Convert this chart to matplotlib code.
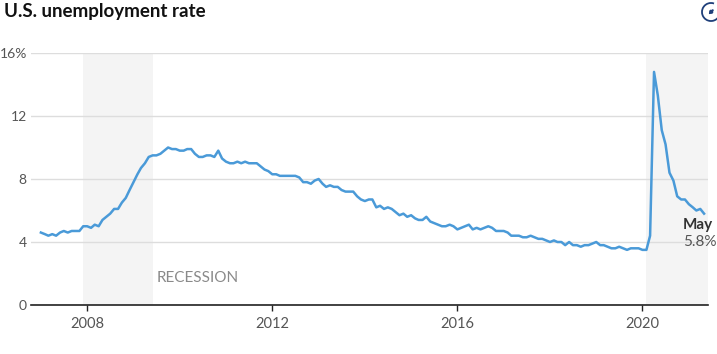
import numpy as np
import pandas as pd
import matplotlib.pyplot as plt
import matplotlib.dates as mdates
from matplotlib.patches import Arc, FancyArrowPatch

plt.rcParams['font.family'] = ['Lato', 'DejaVu Sans']

# Monthly unemployment rate, Jan 2007 - May 2021 (%)
rate = [
    4.6, 4.5, 4.4, 4.5, 4.4, 4.6, 4.7, 4.6, 4.7, 4.7, 4.7, 5.0,   # 2007
    5.0, 4.9, 5.1, 5.0, 5.4, 5.6, 5.8, 6.1, 6.1, 6.5, 6.8, 7.3,   # 2008
    7.8, 8.3, 8.7, 9.0, 9.4, 9.5, 9.5, 9.6, 9.8, 10.0, 9.9, 9.9,  # 2009
    9.8, 9.8, 9.9, 9.9, 9.6, 9.4, 9.4, 9.5, 9.5, 9.4, 9.8, 9.3,   # 2010
    9.1, 9.0, 9.0, 9.1, 9.0, 9.1, 9.0, 9.0, 9.0, 8.8, 8.6, 8.5,   # 2011
    8.3, 8.3, 8.2, 8.2, 8.2, 8.2, 8.2, 8.1, 7.8, 7.8, 7.7, 7.9,   # 2012
    8.0, 7.7, 7.5, 7.6, 7.5, 7.5, 7.3, 7.2, 7.2, 7.2, 6.9, 6.7,   # 2013
    6.6, 6.7, 6.7, 6.2, 6.3, 6.1, 6.2, 6.1, 5.9, 5.7, 5.8, 5.6,   # 2014
    5.7, 5.5, 5.4, 5.4, 5.6, 5.3, 5.2, 5.1, 5.0, 5.0, 5.1, 5.0,   # 2015
    4.8, 4.9, 5.0, 5.1, 4.8, 4.9, 4.8, 4.9, 5.0, 4.9, 4.7, 4.7,   # 2016
    4.7, 4.6, 4.4, 4.4, 4.4, 4.3, 4.3, 4.4, 4.3, 4.2, 4.2, 4.1,   # 2017
    4.0, 4.1, 4.0, 4.0, 3.8, 4.0, 3.8, 3.8, 3.7, 3.8, 3.8, 3.9,   # 2018
    4.0, 3.8, 3.8, 3.7, 3.6, 3.6, 3.7, 3.6, 3.5, 3.6, 3.6, 3.6,   # 2019
    3.5, 3.5, 4.4, 14.8, 13.3, 11.1, 10.2, 8.4, 7.9, 6.9, 6.7, 6.7,  # 2020
    6.4, 6.2, 6.0, 6.1, 5.8,                                      # 2021
]
dates = pd.date_range('2007-01-01', periods=len(rate), freq='MS')

recessions = [('2007-12-01', '2009-06-01'), ('2020-02-01', '2021-06-01')]
yticks = [0, 4, 8, 12, 16]
ytick_labels = ['0', '4', '8', '12', '16%']
xtick_years = [2008, 2012, 2016, 2020]

line_color = '#4a9ad8'
text_color = '#555555'
W, H = 717, 354

fig = plt.figure(figsize=(W / 100, H / 100), dpi=100)
ax = fig.add_axes([31 / W, 49 / H, 677 / W, 252 / H])

for start, end in recessions:
    ax.axvspan(pd.Timestamp(start), pd.Timestamp(end), color='#f4f4f4', zorder=0, lw=0)

ax.plot(dates, rate, color=line_color, lw=1.8, zorder=3, solid_joinstyle='round')

ax.set_ylim(0, 16)
ax.set_xlim(pd.Timestamp('2006-10-15'), pd.Timestamp('2021-06-01'))
ax.set_yticks(yticks)
ax.set_yticklabels(ytick_labels)
ax.set_xticks([pd.Timestamp(f'{y}-01-01') for y in xtick_years])
ax.xaxis.set_major_formatter(mdates.DateFormatter('%Y'))

ax.grid(axis='y', color='#dddddd', lw=1, zorder=1)
for s in ['top', 'right', 'left']:
    ax.spines[s].set_visible(False)
ax.spines['bottom'].set_color('#222222')
ax.spines['bottom'].set_linewidth(1.2)
ax.tick_params(axis='y', length=0, pad=3, labelsize=10, labelcolor=text_color)
ax.tick_params(axis='x', length=4, width=1, color='#222222', pad=5,
               labelsize=10.5, labelcolor=text_color)

fig.text(157 / W, 1 - 278 / H, 'RECESSION', fontsize=11,
         color='#8a8a8a', ha='left', va='center')

fig.text(683 / W, 1 - 225 / H, 'May', ha='left', va='center',
         fontsize=11, fontweight='bold', color='#333333')
fig.text(683 / W, 1 - 242 / H, '5.8%', ha='left', va='center',
         fontsize=11, color=text_color)

fig.text(4 / W, 1 - 12 / H, 'U.S. unemployment rate', fontsize=13.5,
         fontweight='bold', color='#111111', ha='left', va='center')

# expand icon (circle open at top-right with a double arrow)
cx, cy, r = 711 / W, 1 - 12 / H, 9
fig.patches.append(Arc((cx, cy), 2 * r / W, 2 * r / H, theta1=80, theta2=10,
                       transform=fig.transFigure, ec='#1f3f7a', lw=1.3))
fig.patches.append(FancyArrowPatch((cx - 4.5 / W, cy - 4.5 / H), (cx + 5 / W, cy + 5 / H),
                                   transform=fig.transFigure, arrowstyle='<|-|>',
                                   mutation_scale=5, color='#1f3f7a', lw=1.1))

fig.savefig('out.png', dpi=100)
